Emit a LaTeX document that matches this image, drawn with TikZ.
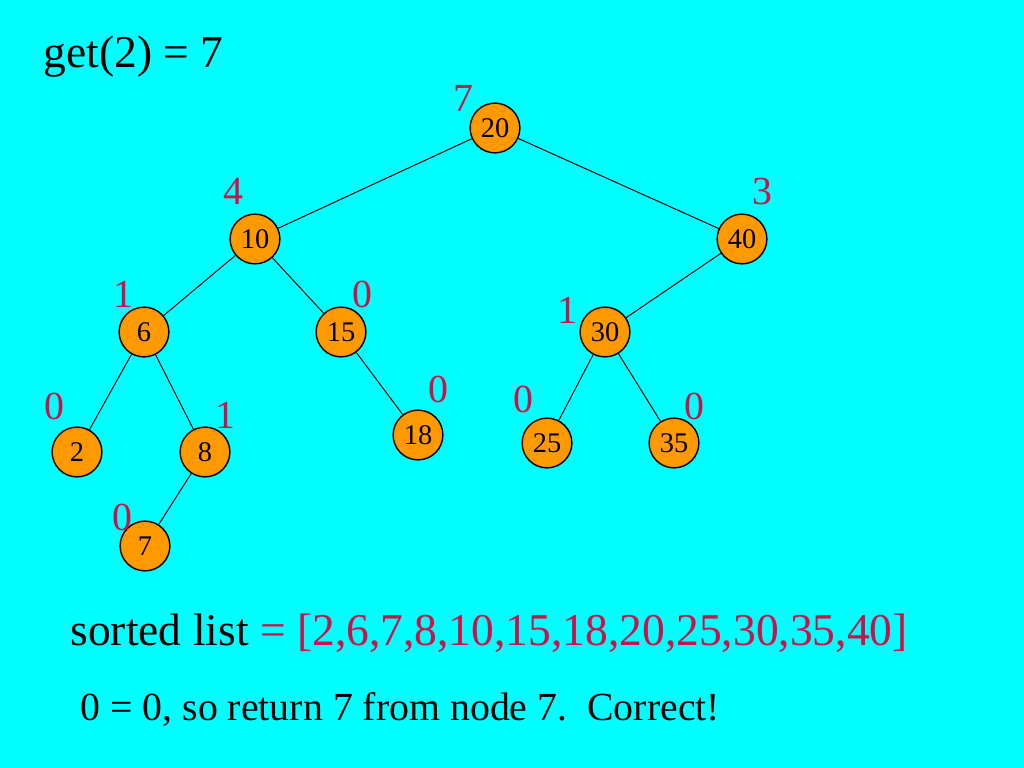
\documentclass[tikz,border=0pt]{standalone}
\usepackage{fontspec}
\setmainfont{Liberation Serif}
\usetikzlibrary{positioning}
\definecolor{slidebg}{RGB}{0,255,255}
\definecolor{nodefill}{RGB}{255,153,0}
\definecolor{cntred}{RGB}{208,16,72}

\begin{document}
\begin{tikzpicture}[x=0.703125pt, y=-0.703125pt, line width=0.7pt,
    main/.style = {draw, circle, fill=nodefill, line width=1pt, minimum size=35pt, inner sep=0pt, font=\fontsize{20}{24}\selectfont},
    cnt/.style = {text=cntred, anchor=base, inner sep=0pt, font=\fontsize{28}{34}\selectfont},
    txt/.style = {anchor=base west, inner sep=0pt}]
    \fill[slidebg] (0,0) rectangle (1024,768);
    \useasboundingbox (0,0) rectangle (1024,768);

    \node[main] (20) at (495,128) {20};
    \node[main] (10) at (255,239) {10};
    \node[main] (40) at (742,239) {40};
    \node[main] (6) at (144,332) {6};
    \node[main] (15) at (341,332) {15};
    \node[main] (30) at (605,332) {30};
    \node[main] (2) at (77,452) {2};
    \node[main] (8) at (205,452) {8};
    \node[main] (18) at (418,435) {18};
    \node[main] (25) at (547,443) {25};
    \node[main] (35) at (674,443) {35};
    \node[main] (7) at (145,546) {7};

    \draw (20) -- (10);
    \draw (20) -- (40);
    \draw (10) -- (6);
    \draw (10) -- (15);
    \draw (40) -- (30);
    \draw (6) -- (2);
    \draw (6) -- (8);
    \draw (15) -- (18);
    \draw (30) -- (25);
    \draw (30) -- (35);
    \draw (8) -- (7);

    \node[cnt] (c20) at (463,112) {7};
    \node[cnt] (c10) at (233,205) {4};
    \node[cnt] (c40) at (762,205) {3};
    \node[cnt] (c6) at (123,307) {1};
    \node[cnt] (c15) at (362,308) {0};
    \node[cnt] (c30) at (567,324) {1};
    \node[cnt] (c2) at (54,419) {0};
    \node[cnt] (c8) at (225,428) {1};
    \node[cnt] (c18) at (438,402) {0};
    \node[cnt] (c25) at (523,412) {0};
    \node[cnt] (c35) at (694,419) {0};
    \node[cnt] (c7) at (122,530) {0};

    \node[txt, font=\fontsize{32}{38}\selectfont] (title) at (43,68) {get(2) = 7};
    \node[txt, font=\fontsize{32}{38}\selectfont] (list) at (70,645) {sorted list \textcolor{cntred}{= [2,6,7,8,10,15,18,20,25,30,35,40]}};
    \node[txt, font=\fontsize{28}{34}\selectfont] (result) at (80,720) {0 = 0, so return 7 from node 7.\ \ Correct!};
\end{tikzpicture}
\end{document}
